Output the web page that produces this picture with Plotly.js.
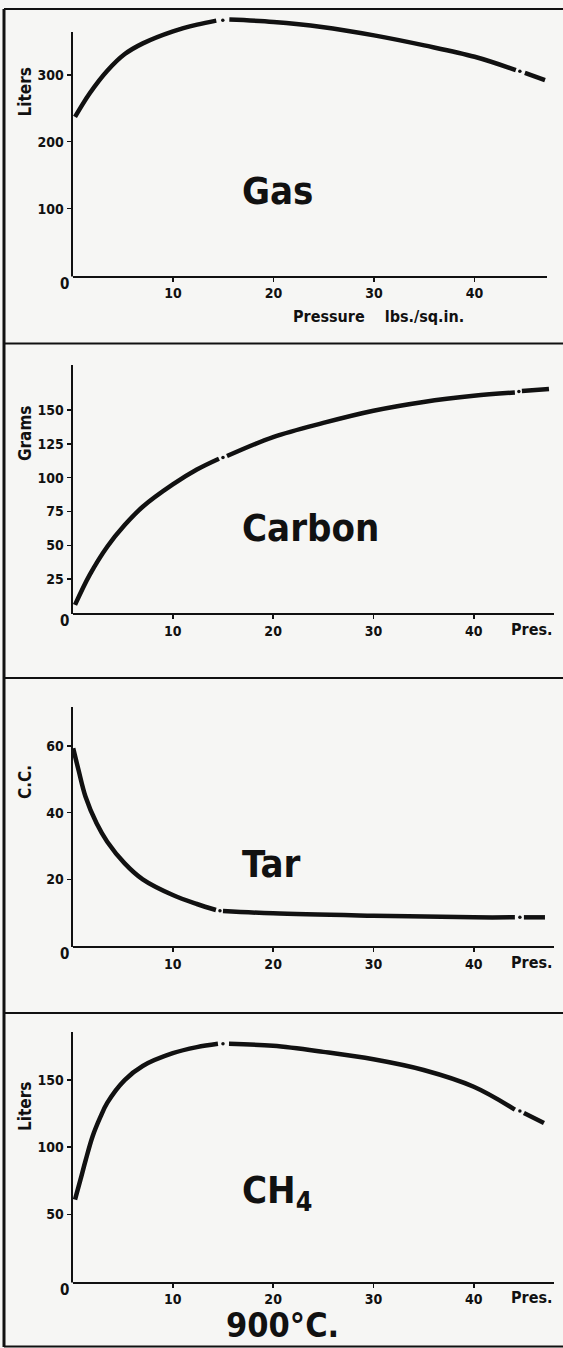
<!DOCTYPE html>
<html>
<head>
<meta charset="utf-8">
<script src="https://cdn.plot.ly/plotly-3.0.1.min.js"></script>
<style>html,body{margin:0;padding:0;background:#f6f6f4;}#chart{width:563px;height:1348px;}</style>
</head>
<body>
<div id="chart"></div>
<script>
// ---------- DATA ----------
const pressureTicks = [10, 20, 30, 40];

// Gas (Liters) vs pressure (lbs./sq.in.)
const gasX = [0.25, 1.7, 3.46, 5.2, 7.0, 10, 12.4, 14.3, null, 15.6, 20, 24.8, 30, 35, 40, 44.1, null, 45, 47];
const gasY = [237, 272, 306, 331, 347, 365, 375, 381, null, 382.5, 379, 371.6, 359, 344, 327, 307, null, 303, 292];
const gasDotX = [14.95, 44.5];
const gasDotY = [381.5, 305.5];
const gasTicks = [100, 200, 300];

// Carbon (Grams)
const carbonX = [0.25, 1.7, 3.46, 5.2, 7.0, 10, 12.4, 14.6, null, 15.4, 20, 25, 30, 35, 40, 44.1, null, 44.8, 47.5];
const carbonY = [6, 28, 49, 65, 78.5, 95, 106, 114, null, 116, 130, 140.5, 149.5, 156, 160.5, 163, null, 164, 165.5];
const carbonDotX = [15, 44.5];
const carbonDotY = [115, 163.7];
const carbonTicks = [25, 50, 75, 100, 125, 150];

// Tar (C.C.)
const tarX = [0.07, 0.6, 1.3, 2.4, 3.46, 5.2, 7.0, 10, 12.4, 14.3, null, 15.0, 20, 30, 40, 44.1, null, 45, 47.1];
const tarY = [59.3, 52.8, 44.8, 36.8, 31.3, 24.8, 20, 15.3, 12.6, 10.8, null, 10.5, 9.8, 9.1, 8.6, 8.6, null, 8.6, 8.6];
const tarDotX = [14.7, 44.6];
const tarDotY = [10.6, 8.6];
const tarTicks = [20, 40, 60];

// CH4 (Liters)
const ch4X = [0.25, 0.8, 1.3, 2.0, 2.75, 3.46, 5.2, 7.0, 10, 12.4, 14.5, null, 15.6, 20, 25, 30, 35, 40, 44.1, null, 45, 47];
const ch4Y = [61, 76, 90, 108, 122, 133, 150, 160.5, 170, 174.5, 177, null, 177, 175.5, 171, 165.5, 157.5, 145, 128, null, 125.5, 118];
const ch4DotX = [15, 44.6];
const ch4DotY = [177, 127];
const ch4Ticks = [50, 100, 150];

const panelNames = ["Gas", "Carbon", "Tar", "CH<sub>4</sub>"];
const yTitles = ["Liters", "Grams", "C.C.", "Liters"];
const xTitle = "Pressure&nbsp;&nbsp;&nbsp;&nbsp;lbs./sq.in.";
const presLabel = "Pres.";
const tempLabel = "900°C.";

// ---------- LAYOUT HELPERS ----------
const W = 563, H = 1348;
const px = v => v / W;
const py = v => 1 - v / H;

const FONT = "DejaVu Sans Condensed, Liberation Sans Narrow, DejaVu Sans, sans-serif";
const tickFont = {family: FONT, size: 14, color: "#111", weight: "bold"};
const AXIS_X = 72.5;

// panel geometry in pixels: axis bottom y, axis-line top y, value at axis-line top
const panels = [
  {bot: 275.5, top: 32, ymax: 364, xr: 547, xmax: 47.2, x: gasX, y: gasY, dx: gasDotX, dy: gasDotY, ticks: gasTicks},
  {bot: 613, top: 365, ymax: 183.3, xr: 554, xmax: 48, x: carbonX, y: carbonY, dx: carbonDotX, dy: carbonDotY, ticks: carbonTicks},
  {bot: 946, top: 707, ymax: 71.7, xr: 554, xmax: 48, x: tarX, y: tarY, dx: tarDotX, dy: tarDotY, ticks: tarTicks},
  {bot: 1281.5, top: 1032, ymax: 185.8, xr: 554, xmax: 48, x: ch4X, y: ch4Y, dx: ch4DotX, dy: ch4DotY, ticks: ch4Ticks}
];

const layout = {
  width: W, height: H,
  margin: {l: 0, r: 0, t: 0, b: 0},
  paper_bgcolor: "#f6f6f4",
  plot_bgcolor: "rgba(0,0,0,0)",
  showlegend: false,
  annotations: [],
  shapes: []
};
const traces = [];

const labelCenters = [191, 528, 864, 1192];
const yTitleCenters = [92.5, 434, 782, 1107];
const EXTRA = 22; // room above the drawn axis line so the curve is not clipped

const frame = (x0, y0, x1, y1, w) => ({type: "line", xref: "paper", yref: "paper",
  x0: px(x0), y0: py(y0), x1: px(x1), y1: py(y1), line: {color: "#111", width: w}});

panels.forEach((p, i) => {
  const n = i === 0 ? "" : String(i + 1);
  const xa = "xaxis" + n, ya = "yaxis" + n;
  const scale = (p.bot - p.top) / p.ymax;
  const newTop = p.top - EXTRA;
  const newMax = (p.bot - newTop) / scale;
  layout[xa] = {
    domain: [px(AXIS_X), px(p.xr)], range: [0, p.xmax], anchor: "y" + n,
    showline: true, linecolor: "#111", linewidth: 2,
    ticks: "outside", ticklen: 4, tickwidth: 1.5, tickcolor: "#111",
    tickvals: pressureTicks, ticktext: pressureTicks.map(String),
    tickfont: tickFont, showgrid: false, zeroline: false, fixedrange: true
  };
  layout[ya] = {
    domain: [py(p.bot), py(newTop)], range: [0, newMax], anchor: "x" + n,
    showline: false,
    ticks: "outside", ticklen: 5, tickwidth: 1.5, tickcolor: "#111",
    tickvals: p.ticks, ticktext: p.ticks.map(String),
    tickfont: tickFont, showgrid: false, zeroline: false, fixedrange: true
  };
  // y axis line only up to the drawn top
  layout.shapes.push(frame(AXIS_X - 0.5, p.bot + 1, AXIS_X - 0.5, p.top, 2));
  traces.push({
    type: "scatter", mode: "lines", x: p.x, y: p.y, xaxis: "x" + n, yaxis: "y" + n,
    line: {color: "#111", width: 4.5, shape: "spline", smoothing: 1},
    connectgaps: false, hoverinfo: "skip"
  });
  traces.push({
    type: "scatter", mode: "markers", x: p.dx, y: p.dy, xaxis: "x" + n, yaxis: "y" + n,
    marker: {color: "#111", size: 3.5}, cliponaxis: false, hoverinfo: "skip"
  });
  // origin "0"
  layout.annotations.push({xref: "paper", yref: "paper", x: px(64), y: py(p.bot + 8),
    text: "0", showarrow: false, xanchor: "center", yanchor: "middle",
    font: {family: FONT, size: 15, color: "#111", weight: "bold"}});
  // panel label
  layout.annotations.push({xref: "paper", yref: "paper", x: px(240), y: py(labelCenters[i]),
    text: panelNames[i], showarrow: false, xanchor: "left", yanchor: "middle",
    font: {family: FONT, size: 38, color: "#111", weight: "bold"}});
  // y title
  layout.annotations.push({xref: "paper", yref: "paper", x: px(25), y: py(yTitleCenters[i]),
    text: yTitles[i], showarrow: false, textangle: -90, xanchor: "center", yanchor: "middle",
    font: {family: FONT, size: 17, color: "#111", weight: "bold"}});
  if (i > 0) {
    layout.annotations.push({xref: "paper", yref: "paper", x: px(531), y: py(p.bot + 16),
      text: presLabel, showarrow: false, xanchor: "center", yanchor: "middle",
      font: {family: FONT, size: 16, color: "#111", weight: "bold"}});
  }
});

layout.annotations.push({xref: "paper", yref: "paper", x: px(291), y: py(316),
  text: xTitle, showarrow: false, xanchor: "left", yanchor: "middle",
  font: {family: FONT, size: 16, color: "#111", weight: "bold"}});
layout.annotations.push({xref: "paper", yref: "paper", x: px(282), y: py(1325),
  text: tempLabel, showarrow: false, xanchor: "center", yanchor: "middle",
  font: {family: FONT, size: 34, color: "#111", weight: "bold"}});

// frame lines
layout.shapes.push(frame(4, 9, 4, 1347, 3));
[9, 343.5, 678, 1013, 1346.5].forEach(v => layout.shapes.push(frame(4, v, 563, v, 2)));

Plotly.newPlot("chart", traces, layout, {staticPlot: true, displayModeBar: false});
</script>
</body>
</html>
